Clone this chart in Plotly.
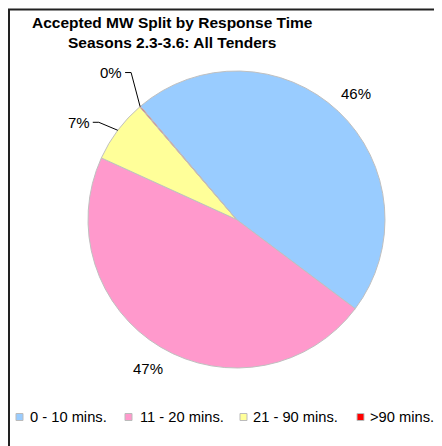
import math
import plotly.graph_objects as go

categories = ["0 - 10 mins.", "11 - 20 mins.", "21 - 90 mins.", ">90 mins."]
values = [46.45, 46.55, 6.9, 0.1]
colors = ["#99CCFF", "#FF99CC", "#FFFF99", "#FF0000"]
title_lines = ["Accepted MW Split by Response Time", "Seasons 2.3-3.6: All Tenders"]

W, H = 442, 446
FONT = "Liberation Sans, Arial, sans-serif"
ROT = -40.3
# pie geometry (pixels in figure coords)
CX, CY, R = 228.5, 211.5, 148.5


def px2paper(x, y):
    return x / W, 1 - y / H


fig = go.Figure(go.Pie(
    labels=categories, values=values, sort=False, direction="clockwise",
    rotation=ROT,
    marker=dict(colors=colors, line=dict(color="#C0C0C0", width=1)),
    textinfo="none",
    domain=dict(x=[(CX - R) / W, (CX + R) / W], y=[1 - (CY + R) / H, 1 - (CY - R) / H]),
    hoverinfo="label+percent",
    showlegend=False,
))

total = sum(values)
annotations = []
shapes = [dict(type="rect", xref="paper", yref="paper", x0=1 / W, x1=1.1, y0=-0.1, y1=1 - 1.5 / H,
               line=dict(color="#222222", width=2), fillcolor="rgba(0,0,0,0)", layer="below")]
cum = 0.0
# label offsets for small slices (pixel offsets of text centre from slice edge)
small_offsets = {2: (-39, -8), 3: (-29, -34)}
for i, v in enumerate(values):
    mid = math.radians(ROT + (cum + v / 2) / total * 360)
    cum += v
    txt = f"{round(v / total * 100)}%"
    if i in small_offsets:
        ex = CX + R * math.sin(mid)
        ey = CY - R * math.cos(mid)
        ox, oy = small_offsets[i]
        tx, ty = ex + ox, ey + oy
        tpx, tpy = px2paper(tx, ty)
        annotations.append(dict(x=tpx, y=tpy, xref="paper", yref="paper",
                                text=txt, showarrow=False, xanchor="center", yanchor="middle",
                                font=dict(family=FONT, size=15, color="#000000")))
        p0 = px2paper(tx + 14, ty)
        p1 = px2paper(tx + 20, ty)
        p2 = px2paper(ex, ey)
        shapes.append(dict(type="path", xref="paper", yref="paper",
                           path=f"M {p0[0]},{p0[1]} L {p1[0]},{p1[1]} L {p2[0]},{p2[1]}",
                           line=dict(color="#000000", width=1)))
    else:
        rr = R * 1.17
        px = CX + rr * math.sin(mid)
        py = CY - rr * math.cos(mid)
        annotations.append(dict(x=px / W, y=1 - py / H, xref="paper", yref="paper",
                                text=txt, showarrow=False, xanchor="center", yanchor="middle",
                                font=dict(family=FONT, size=15, color="#000000")))

# title as annotation
annotations.append(dict(x=164 / W, y=1 - 4 / H, xref="paper", yref="paper",
                        text="<b>" + "<br>".join(title_lines) + "</b>",
                        showarrow=False, xanchor="center", yanchor="top", align="center",
                        font=dict(family=FONT, size=15.5, color="#000000")))

# custom one-row legend
legend_swatch_x = [8, 117, 232, 349]
legend_text_x = [20, 130, 243, 360]
LEG_Y = 409
for sx, tx, c, lab in zip(legend_swatch_x, legend_text_x, colors, categories):
    shapes.append(dict(type="rect", xref="paper", yref="paper",
                       x0=sx / W, x1=(sx + 7) / W, y0=1 - (LEG_Y + 3.5) / H, y1=1 - (LEG_Y - 3.5) / H,
                       line=dict(color="#BBBBBB", width=1), fillcolor=c))
    annotations.append(dict(x=tx / W, y=1 - LEG_Y / H, xref="paper", yref="paper", text=lab,
                            showarrow=False, xanchor="left", yanchor="middle",
                            font=dict(family=FONT, size=14.7, color="#000000")))

fig.update_layout(
    width=W, height=H,
    margin=dict(l=0, r=0, t=0, b=0),
    paper_bgcolor="white", plot_bgcolor="white",
    font=dict(family=FONT, size=15, color="#000000"),
    annotations=annotations,
    shapes=shapes,
)
fig.write_html("out.html")
